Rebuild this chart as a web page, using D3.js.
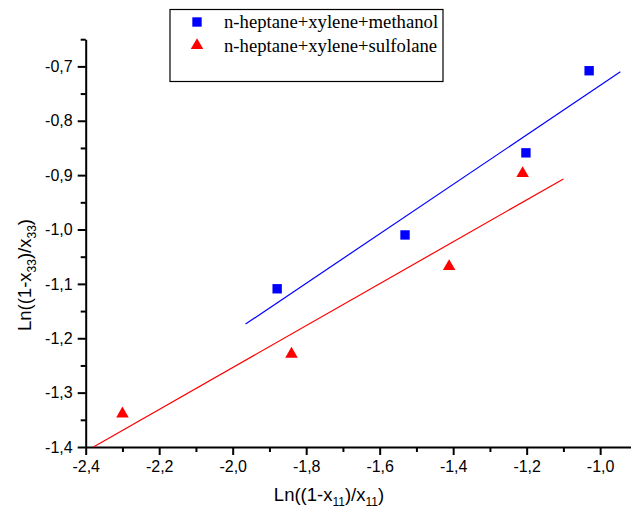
<!DOCTYPE html>
<html>
<head>
<meta charset="utf-8">
<script src="https://cdn.jsdelivr.net/npm/d3@7/dist/d3.min.js"></script>
<style>
  html, body { margin: 0; padding: 0; background: #fff; }
  svg { display: block; }
</style>
</head>
<body>
<svg id="chart" width="631" height="516"></svg>
<script>
// Series: ln((1-x11)/x11) vs ln((1-x33)/x33)
const methanolX = [-1.879, -1.531, -1.202, -1.030];
const methanolY = [-1.109, -1.010, -0.859, -0.708];
const sulfolaneX = [-2.300, -1.840, -1.411, -1.211];
const sulfolaneY = [-1.339, -1.229, -1.068, -0.897];

// Straight-line fits (end points)
const methanolFitX = [-1.965, -0.945];
const methanolFitY = [-1.174, -0.710];
const sulfolaneFitX = [-2.379, -1.100];
const sulfolaneFitY = [-1.400, -0.907];

const seriesNames = ["n-heptane+xylene+methanol", "n-heptane+xylene+sulfolane"];

const xTicks = [-2.4, -2.2, -2.0, -1.8, -1.6, -1.4, -1.2, -1.0];
const xMinor = [-2.3, -2.1, -1.9, -1.7, -1.5, -1.3, -1.1, -0.9];
const yTicks = [-1.4, -1.3, -1.2, -1.1, -1.0, -0.9, -0.8, -0.7];
const yMinor = [-1.35, -1.25, -1.15, -1.05, -0.95, -0.85, -0.75, -0.65];

const svg = d3.select("#chart");
const x = d3.scaleLinear().domain([-2.4, -0.9]).range([85.7, 636.9]);
const y = d3.scaleLinear().domain([-1.4, -0.65]).range([447, 39.2]);

const fmt = d => d.toFixed(1).replace(".", ",");
const sans = "'Liberation Sans', Arial, sans-serif";
const serif = "'Liberation Serif', 'Times New Roman', serif";

function styleAxis(g) {
  g.select(".domain").attr("stroke", "#000").attr("stroke-width", 2);
  g.selectAll(".tick line").attr("stroke", "#000").attr("stroke-width", 2);
  g.selectAll("text").attr("fill", "#000").style("font-family", sans).style("font-size", "16px");
}

// minor ticks
svg.append("g").attr("transform", "translate(0,447)")
  .call(d3.axisBottom(x).tickValues(xMinor).tickSize(5).tickSizeOuter(0).tickFormat(""))
  .call(g => { g.select(".domain").remove(); g.selectAll(".tick line").attr("stroke", "#000").attr("stroke-width", 2); });
svg.append("g").attr("transform", "translate(85.7,0)")
  .call(d3.axisLeft(y).tickValues(yMinor).tickSize(5).tickSizeOuter(0).tickFormat(""))
  .call(g => { g.select(".domain").remove(); g.selectAll(".tick line").attr("stroke", "#000").attr("stroke-width", 2); });

// major axes
svg.append("g").attr("transform", "translate(0,447)")
  .call(d3.axisBottom(x).tickValues(xTicks).tickSize(8).tickSizeOuter(0).tickPadding(6).tickFormat(fmt))
  .call(styleAxis);
svg.append("g").attr("transform", "translate(85.7,0)")
  .call(d3.axisLeft(y).tickValues(yTicks).tickSize(8).tickSizeOuter(0).tickPadding(5).tickFormat(fmt))
  .call(styleAxis);

// fit lines
const line = d3.line().x(d => x(d[0])).y(d => y(d[1]));
svg.append("path").datum(d3.zip(methanolFitX, methanolFitY))
  .attr("d", line).attr("fill", "none").attr("stroke", "#0000ff").attr("stroke-width", 1.2);
svg.append("path").datum(d3.zip(sulfolaneFitX, sulfolaneFitY))
  .attr("d", line).attr("fill", "none").attr("stroke", "#ff0000").attr("stroke-width", 1.2);

// markers
const square = d3.symbol().type(d3.symbolSquare).size(88);
const triangle = d3.symbol().type(d3.symbolTriangle).size(68);
svg.append("g").selectAll("path").data(d3.zip(methanolX, methanolY)).join("path")
  .attr("d", square).attr("fill", "#0000ff")
  .attr("transform", d => `translate(${x(d[0])},${y(d[1])})`);
svg.append("g").selectAll("path").data(d3.zip(sulfolaneX, sulfolaneY)).join("path")
  .attr("d", triangle).attr("fill", "#ff0000")
  .attr("transform", d => `translate(${x(d[0])},${y(d[1])})`);

// axis titles
function subTitle(sel, sub) {
  sel.append("tspan").text("Ln((1-x");
  sel.append("tspan").text(sub).style("font-size", "12px").attr("dy", 5);
  sel.append("tspan").text(")/x").attr("dy", -5);
  sel.append("tspan").text(sub).style("font-size", "12px").attr("dy", 5);
  sel.append("tspan").text(")").attr("dy", -5);
}
const xt = svg.append("text").attr("x", 329).attr("y", 501).attr("text-anchor", "middle")
  .style("font-family", sans).style("font-size", "18.5px").attr("fill", "#000");
subTitle(xt, "11");

const yt = svg.append("text").attr("transform", "translate(31,275) rotate(-90)").attr("text-anchor", "middle")
  .style("font-family", sans).style("font-size", "18.5px").attr("fill", "#000");
subTitle(yt, "33");

// legend
const lg = svg.append("g");
lg.append("rect").attr("x", 170).attr("y", 9.5).attr("width", 273).attr("height", 72)
  .attr("fill", "#fff").attr("stroke", "#000").attr("stroke-width", 1.2);
const legendShapes = [square, triangle];
const legendColors = ["#0000ff", "#ff0000"];
seriesNames.forEach((name, i) => {
  const cy = 22 + i * 23.5;
  lg.append("path").attr("d", legendShapes[i]).attr("fill", legendColors[i])
    .attr("transform", `translate(197,${cy})`);
  lg.append("text").attr("x", 224).attr("y", cy + 6).text(name)
    .style("font-family", serif).style("font-size", "18.7px").attr("fill", "#000");
});
</script>
</body>
</html>
